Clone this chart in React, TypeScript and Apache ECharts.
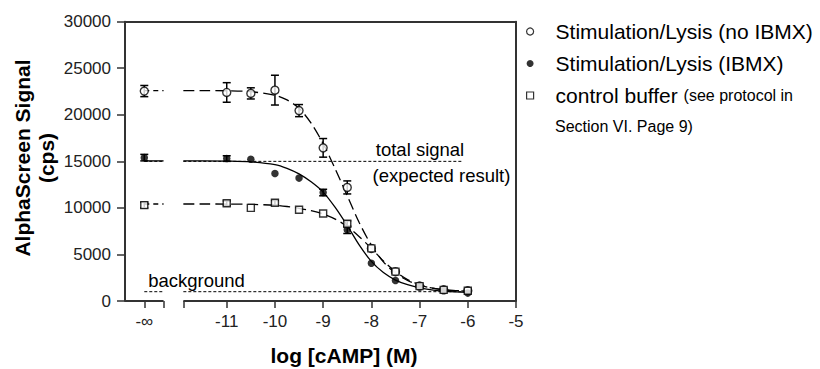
import React, { useEffect, useRef } from 'react';
import * as echarts from 'echarts';

const FONT = '"Liberation Sans", Arial, Helvetica, sans-serif';

// x-axis layout (log units); "-∞" is drawn at its own position left of the axis break
const X_MIN = -13.11;
const X_MAX = -5;
const NEG_INF_POS = -12.71;
const BREAK_LEFT = -12.31;
const BREAK_RIGHT = -11.9;

// measured doses (log [cAMP] M)
const doses = ['-∞', '-11', '-10.5', '-10', '-9.5', '-9', '-8.5', '-8', '-7.5', '-7', '-6.5', '-6'];
const xTickLabels = ['-∞', '-11', '-10', '-9', '-8', '-7', '-6', '-5'];

// Stimulation/Lysis (no IBMX)
const noIbmx = [22550, 22400, 22300, 22650, 20450, 16450, 12200, 5650, 3150, 1600, 1200, 1100];
const noIbmxErr = [600, 1050, 600, 1600, 650, 1000, 700, 0, 0, 0, 0, 0];
// Stimulation/Lysis (IBMX)
const ibmx = [15400, 15300, 15220, 13700, 13200, 11650, 7650, 4050, 2200, 1550, 1200, 850];
const ibmxErr = [350, 300, 0, 0, 0, 350, 400, 0, 0, 0, 0, 0];
// control buffer
const control = [10300, 10500, 10000, 10550, 9800, 9400, 8300, 5650, 3150, 1600, 1200, 1100];
const controlErr = [300, 250, 0, 250, 0, 0, 300, 0, 0, 0, 0, 0];

// fitted curves
const curveX = [-11.9, -11.5, -11, -10.5, -10, -9.75, -9.5, -9.25, -9, -8.75, -8.5, -8.25, -8, -7.75, -7.5, -7.25, -7, -6.75, -6.5, -6.25, -6];
const noIbmxCurve = [22600, 22600, 22580, 22480, 22100, 21600, 20700, 19100, 16900, 14200, 11300, 8400, 6000, 4200, 3000, 2200, 1700, 1400, 1220, 1120, 1060];
const ibmxCurve = [15050, 15050, 15030, 14950, 14650, 14250, 13650, 12800, 11700, 10050, 8100, 6000, 4250, 3050, 2250, 1750, 1420, 1200, 1060, 970, 920];
const controlCurve = [10420, 10420, 10410, 10380, 10280, 10150, 9960, 9700, 9350, 8800, 8000, 6900, 5650, 4300, 3150, 2300, 1750, 1400, 1200, 1100, 1050];

// reference levels
const totalSignal = 15000;
const totalSignalEnd = -6.12;
const background = 1000;
const backgroundEnd = -6;

const names = ['Stimulation/Lysis (no IBMX)', 'Stimulation/Lysis (IBMX)', 'control buffer'];

const toX = (d: string) => (d === '-∞' ? NEG_INF_POS : Number(d));
const xTickValues = xTickLabels.map(toX);

function pts(values: number[]) {
  return doses.map((d, i) => [toX(d), values[i]]);
}
function errPts(values: number[], errs: number[]) {
  return doses.map((d, i) => [toX(d), values[i], errs[i]]);
}
function curvePts(values: number[]) {
  return curveX.map((x, i) => [x, values[i]]);
}

function errorSeries(id: string, values: number[], errs: number[]) {
  return {
    type: 'custom',
    id,
    z: 3,
    silent: true,
    clip: false,
    data: errPts(values, errs),
    encode: { x: 0, y: 1 },
    renderItem: (_p: any, api: any) => {
      const x = api.value(0);
      const y = api.value(1);
      const e = api.value(2);
      if (!e) return null;
      const t = api.coord([x, y + e]);
      const b = api.coord([x, y - e]);
      const hw = 4;
      const st = { stroke: '#000', lineWidth: 1.5 };
      return {
        type: 'group',
        children: [
          { type: 'line', shape: { x1: t[0], y1: t[1], x2: b[0], y2: b[1] }, style: st },
          { type: 'line', shape: { x1: t[0] - hw, y1: t[1], x2: t[0] + hw, y2: t[1] }, style: st },
          { type: 'line', shape: { x1: b[0] - hw, y1: b[1], x2: b[0] + hw, y2: b[1] }, style: st },
        ],
      };
    },
  };
}

function lineSeries(id: string, data: number[][], type: any, width = 1.3) {
  return {
    type: 'line',
    id,
    data,
    showSymbol: false,
    symbol: 'none',
    silent: true,
    clip: false,
    z: 2,
    lineStyle: { color: '#000', width, type },
  };
}

export default function App() {
  const ref = useRef<HTMLDivElement>(null);
  useEffect(() => {
    if (!ref.current) return;
    const chart = echarts.init(ref.current, undefined, { renderer: 'svg' });
    const axisColor = '#333';
    const dash = [11, 5];
    const shortDash = [5, 4];
    const dotted = [3, 2];
    const option: any = {
      animation: false,
      backgroundColor: '#fff',
      textStyle: { fontFamily: FONT },
      grid: { left: 125, right: 304, top: 21.7, bottom: 68, containLabel: false },
      xAxis: [
        {
          type: 'value',
          min: X_MIN,
          max: X_MAX,
          axisLine: { show: false },
          splitLine: { show: false },
          axisTick: {
            show: true,
            length: 7,
            customValues: [...xTickValues, BREAK_LEFT, BREAK_RIGHT],
            lineStyle: { color: axisColor, width: 1.5 },
          },
          axisLabel: {
            customValues: xTickValues,
            formatter: (v: number) => {
              const i = xTickValues.findIndex((t) => Math.abs(t - v) < 1e-6);
              return i >= 0 ? xTickLabels[i] : '';
            },
            fontSize: 17,
            color: '#222',
            margin: 12,
            fontFamily: FONT,
          },
        },
        {
          type: 'value',
          position: 'top',
          min: X_MIN,
          max: X_MAX,
          axisLine: { show: true, onZero: false, lineStyle: { color: axisColor, width: 2 } },
          axisTick: { show: false },
          axisLabel: { show: false },
          splitLine: { show: false },
        },
      ],
      yAxis: [
        {
          type: 'value',
          min: 0,
          max: 30000,
          interval: 5000,
          axisLine: { show: true, onZero: false, lineStyle: { color: axisColor, width: 2 } },
          axisTick: { show: true, length: 8, lineStyle: { color: axisColor, width: 1.5 } },
          axisLabel: {
            fontSize: 17,
            color: '#222',
            margin: 14,
            fontFamily: FONT,
            formatter: (v: number) => String(v),
          },
          splitLine: { show: false },
        },
        {
          type: 'value',
          position: 'right',
          min: 0,
          max: 30000,
          axisLine: { show: true, onZero: false, lineStyle: { color: axisColor, width: 2 } },
          axisTick: { show: false },
          axisLabel: { show: false },
          splitLine: { show: false },
        },
      ],
      legend: {
        orient: 'vertical',
        left: 526,
        top: 21,
        padding: 0,
        itemGap: 11,
        itemWidth: 7,
        itemHeight: 7,
        selectedMode: false,
        textStyle: {
          fontFamily: FONT,
          fontSize: 21,
          lineHeight: 21,
          color: '#000',
          padding: [0, 0, 0, 17],
          rich: {
            a: { fontFamily: FONT, fontSize: 21, lineHeight: 21, color: '#000' },
            b: { fontFamily: FONT, fontSize: 16, lineHeight: 21, color: '#000' },
          },
        },
        formatter: (name: string) =>
          name === 'control buffer' ? '{a|control buffer} {b|(see protocol in}' : name,
        data: [
          { name: names[0], icon: 'circle', itemStyle: { color: '#fff', borderColor: '#000', borderWidth: 1.2 } },
          { name: names[1], icon: 'circle', itemStyle: { color: '#000', borderColor: '#000', borderWidth: 0 } },
          { name: names[2], icon: 'rect', itemStyle: { color: '#fff', borderColor: '#000', borderWidth: 1.2 } },
        ],
      },
      graphic: [
        {
          type: 'text',
          x: 555,
          y: 126,
          style: { text: 'Section VI. Page 9)', font: `16px ${FONT}`, fill: '#000', textVerticalAlign: 'middle' },
        },
        {
          type: 'text',
          x: 420,
          y: 149,
          style: { text: 'total signal', font: `18.5px ${FONT}`, fill: '#000', textAlign: 'center', textVerticalAlign: 'middle' },
        },
        {
          type: 'text',
          x: 441.5,
          y: 175,
          style: { text: '(expected result)', font: `18.5px ${FONT}`, fill: '#000', textAlign: 'center', textVerticalAlign: 'middle' },
        },
        {
          type: 'text',
          x: 196.5,
          y: 280,
          style: { text: 'background', font: `18.5px ${FONT}`, fill: '#000', textAlign: 'center', textVerticalAlign: 'middle' },
        },
        {
          type: 'text',
          x: 344,
          y: 355,
          style: { text: 'log [cAMP] (M)', font: `bold 21px ${FONT}`, fill: '#000', textAlign: 'center', textVerticalAlign: 'middle' },
        },
        {
          type: 'text',
          x: 34,
          y: 158,
          rotation: Math.PI / 2,
          style: {
            text: 'AlphaScreen Signal\n(cps)',
            font: `bold 21px ${FONT}`,
            lineHeight: 24,
            fill: '#000',
            textAlign: 'center',
            textVerticalAlign: 'middle',
          },
        },
      ],
      series: [
        // broken bottom axis line
        {
          type: 'line', id: 'axisL', data: [[X_MIN, 0], [BREAK_LEFT, 0]], symbol: 'none', silent: true, clip: false, z: 4,
          lineStyle: { color: axisColor, width: 2 },
        },
        {
          type: 'line', id: 'axisR', data: [[BREAK_RIGHT, 0], [X_MAX, 0]], symbol: 'none', silent: true, clip: false, z: 4,
          lineStyle: { color: axisColor, width: 2 },
        },
        // reference levels
        lineSeries('totalRefL', [[NEG_INF_POS, totalSignal], [BREAK_LEFT, totalSignal]], dotted, 1),
        lineSeries('totalRefR', [[BREAK_RIGHT, totalSignal], [totalSignalEnd, totalSignal]], dotted, 1),
        lineSeries('bgRefL', [[NEG_INF_POS, background], [BREAK_LEFT, background]], dotted, 1),
        lineSeries('bgRefR', [[BREAK_RIGHT, background], [backgroundEnd, background]], dotted, 1),
        // fitted curves
        { ...lineSeries('noIbmxFit', curvePts(noIbmxCurve), dash), smooth: 0.3 },
        lineSeries('noIbmxFitInf', [[NEG_INF_POS, noIbmxCurve[0]], [BREAK_LEFT, noIbmxCurve[0]]], shortDash),
        { ...lineSeries('ibmxFit', curvePts(ibmxCurve), 'solid'), smooth: 0.3 },
        lineSeries('ibmxFitInf', [[NEG_INF_POS, ibmxCurve[0]], [BREAK_LEFT, ibmxCurve[0]]], 'solid'),
        { ...lineSeries('controlFit', curvePts(controlCurve), dash), smooth: 0.3 },
        lineSeries('controlFitInf', [[NEG_INF_POS, controlCurve[0]], [BREAK_LEFT, controlCurve[0]]], shortDash),
        // error bars
        errorSeries('noIbmxErr', noIbmx, noIbmxErr),
        errorSeries('ibmxErr', ibmx, ibmxErr),
        errorSeries('controlErr', control, controlErr),
        // points
        {
          type: 'scatter', name: names[0], data: pts(noIbmx), symbol: 'circle', symbolSize: 8, z: 5, clip: false,
          itemStyle: { color: '#fff', borderColor: '#000', borderWidth: 1.4 },
        },
        {
          type: 'scatter', name: names[1], data: pts(ibmx), symbol: 'circle', symbolSize: 7.5, z: 5, clip: false,
          itemStyle: { color: '#000', borderColor: '#000', borderWidth: 0 },
        },
        {
          type: 'scatter', name: names[2], data: pts(control), symbol: 'rect', symbolSize: 7, z: 5, clip: false,
          itemStyle: { color: '#fff', borderColor: '#000', borderWidth: 1.4 },
        },
      ],
    };
    chart.setOption(option);
    return () => chart.dispose();
  }, []);
  return (
    <div
      ref={ref}
      style={{ position: 'fixed', left: 0, top: 0, width: 820, height: 369, background: '#fff' }}
    />
  );
}
